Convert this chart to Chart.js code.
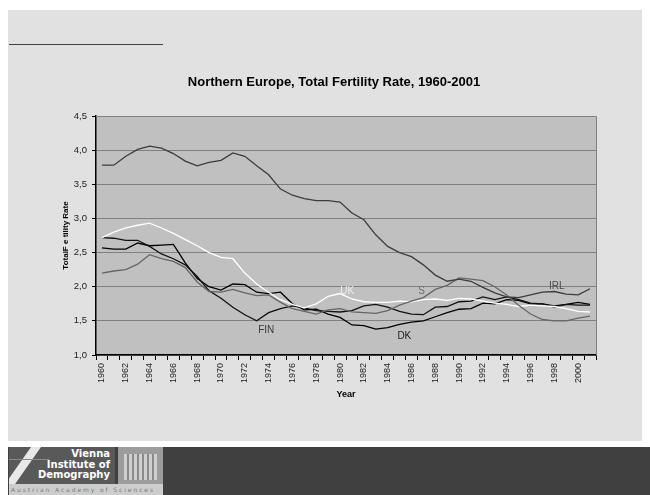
<!DOCTYPE html>
<html>
<head>
<meta charset="utf-8">
<script src="https://cdn.jsdelivr.net/npm/chart.js@4.4.1/dist/chart.umd.min.js"></script>
<style>
    body { margin: 0; background: #fff; width: 650px; height: 495px; overflow: hidden; font-family: "Liberation Sans", Arial, sans-serif; }
    .panel { position: absolute; left: 8px; top: 10px; width: 634px; height: 431px; background: #e1e1e1; }
    .rule { position: absolute; left: 9px; top: 44px; width: 154px; height: 1px; background: #404040; }
    .chart-box { position: absolute; left: 0; top: 0; width: 650px; height: 441px; }
    .footer { position: absolute; left: 8px; top: 447px; width: 642px; height: 48px; background: #404040; }
    .logo { position: absolute; left: 1px; top: 0; width: 154px; height: 48px; }
    .logo .mark { position: absolute; left: 0; top: 0; width: 106px; height: 37px; background: #595959; overflow: hidden; }
    .logo .mark .slash { position: absolute; left: 8px; top: -6px; width: 10px; height: 52px; background: #e8e8e8; transform: skewX(-35deg); }
    .logo .mark .grid { position: absolute; left: 0; top: 12px; width: 40px; height: 1px; background: #888; }
    .logo .mark .txt { position: absolute; right: 5px; top: 2px; color: #fff; font: bold 10px/10.5px "DejaVu Sans", sans-serif; text-align: right; }
    .logo .house { position: absolute; left: 109px; top: 0; width: 45px; height: 37px; background: #9c9c9c; }
    .logo .house .body { position: absolute; left: 6px; top: 7px; width: 33px; height: 26px; background: repeating-linear-gradient(90deg, #cfcfcf 0 3px, #8a8a8a 3px 5px); }
    .logo .strip { position: absolute; left: 0; top: 37px; width: 154px; height: 11px; background: #cdcdcd; color: #7a7a7a; font: 6px/11px "DejaVu Sans", sans-serif; letter-spacing: 1.9px; white-space: nowrap; overflow: hidden; padding-left: 2px; box-sizing: border-box; }
</style>
</head>
<body>
<div class="panel"></div>
<div class="rule"></div>
<div class="chart-box"><canvas id="tfrChart" width="650" height="441"></canvas></div>
<div class="footer">
    <div class="logo">
        <div class="mark"><div class="slash"></div><div class="grid"></div><div class="txt">Vienna<br>Institute of<br>Demography</div></div>
        <div class="house"><div class="body"></div></div>
        <div class="strip">Austrian Academy of Sciences</div>
    </div>
</div>
<script>
// Total fertility rate per country, 1960-2001
const years = [];
for (let y = 1960; y <= 2001; y++) years.push(String(y));

const irlValues = [3.78, 3.78, 3.91, 4.01, 4.06, 4.03, 3.95, 3.84, 3.77, 3.82, 3.85, 3.96, 3.91, 3.77, 3.64, 3.43, 3.34, 3.29, 3.26, 3.26, 3.24, 3.08, 2.98, 2.76, 2.59, 2.50, 2.44, 2.32, 2.17, 2.08, 2.11, 2.08, 1.99, 1.91, 1.85, 1.84, 1.88, 1.92, 1.93, 1.89, 1.88, 1.97];
const sweValues = [2.20, 2.23, 2.25, 2.33, 2.47, 2.41, 2.37, 2.28, 2.07, 1.93, 1.92, 1.96, 1.91, 1.87, 1.88, 1.77, 1.68, 1.64, 1.60, 1.66, 1.68, 1.63, 1.62, 1.61, 1.65, 1.73, 1.79, 1.84, 1.96, 2.02, 2.13, 2.11, 2.09, 2.00, 1.88, 1.73, 1.60, 1.52, 1.50, 1.50, 1.54, 1.57];
const ukValues = [2.72, 2.80, 2.86, 2.90, 2.93, 2.86, 2.78, 2.69, 2.60, 2.50, 2.43, 2.41, 2.20, 2.04, 1.92, 1.81, 1.74, 1.69, 1.75, 1.86, 1.90, 1.82, 1.78, 1.77, 1.77, 1.79, 1.78, 1.81, 1.82, 1.80, 1.83, 1.82, 1.79, 1.76, 1.74, 1.71, 1.73, 1.72, 1.71, 1.68, 1.64, 1.63];
const dkValues = [2.57, 2.55, 2.55, 2.64, 2.60, 2.61, 2.62, 2.35, 2.12, 2.00, 1.95, 2.04, 2.03, 1.92, 1.90, 1.92, 1.75, 1.66, 1.67, 1.60, 1.55, 1.44, 1.43, 1.38, 1.40, 1.45, 1.48, 1.50, 1.56, 1.62, 1.67, 1.68, 1.76, 1.75, 1.81, 1.80, 1.75, 1.75, 1.72, 1.74, 1.77, 1.74];
const finValues = [2.72, 2.71, 2.68, 2.68, 2.59, 2.48, 2.41, 2.32, 2.15, 1.94, 1.83, 1.70, 1.59, 1.50, 1.62, 1.68, 1.72, 1.69, 1.65, 1.64, 1.63, 1.65, 1.72, 1.74, 1.70, 1.64, 1.60, 1.59, 1.70, 1.71, 1.78, 1.79, 1.85, 1.81, 1.85, 1.81, 1.76, 1.75, 1.70, 1.74, 1.73, 1.73];

const yTicks = [1.0, 1.5, 2.0, 2.5, 3.0, 3.5, 4.0, 4.5];

// Country names written next to their lines (year, rate)
const seriesLabels = [
    { text: "IRL", year: 1998.2, rate: 2.01, color: "#4a4a4a" },
    { text: "S", year: 1986.85, rate: 1.94, color: "#6e6e6e" },
    { text: "UK", year: 1980.6, rate: 1.94, color: "#eeeeee" },
    { text: "DK", year: 1985.4, rate: 1.27, color: "#1a1a1a" },
    { text: "FIN", year: 1973.8, rate: 1.36, color: "#3a3a3a" }
];

// Grey plot background with gray frame on top and right
const plotBackground = {
    id: "plotBackground",
    beforeDraw(chart) {
        const { ctx, chartArea: a } = chart;
        ctx.save();
        ctx.fillStyle = "#c0c0c0";
        ctx.fillRect(a.left, a.top, a.right - a.left, a.bottom - a.top);
        ctx.restore();
    },
    afterDraw(chart) {
        const { ctx, chartArea: a } = chart;
        ctx.save();
        ctx.strokeStyle = "#808080";
        ctx.lineWidth = 1;
        ctx.beginPath();
        ctx.moveTo(a.left, a.top + 0.5);
        ctx.lineTo(a.right + 0.5, a.top + 0.5);
        ctx.lineTo(a.right + 0.5, a.bottom);
        ctx.stroke();
        ctx.restore();
    }
};

const lineLabels = {
    id: "lineLabels",
    afterDatasetsDraw(chart) {
        const { ctx, scales } = chart;
        ctx.save();
        ctx.font = "10px 'Liberation Sans', Arial, sans-serif";
        ctx.textAlign = "center";
        ctx.textBaseline = "middle";
        seriesLabels.forEach(l => {
            ctx.fillStyle = l.color;
            ctx.fillText(l.text, scales.x.getPixelForValue(l.year - 1960), scales.y.getPixelForValue(l.rate));
        });
        ctx.restore();
    }
};

function series(label, data, color) {
    return {
        label: label,
        data: data,
        borderColor: color,
        backgroundColor: color,
        borderWidth: 1.3,
        pointRadius: 0,
        tension: 0,
        fill: false
    };
}

const ctx = document.getElementById("tfrChart").getContext("2d");
const tfrChart = new Chart(ctx, {
    type: "line",
    data: {
        labels: years,
        datasets: [
            series("IRL", irlValues, "#3c3c3c"),
            series("S", sweValues, "#666666"),
            series("UK", ukValues, "#ffffff"),
            series("FIN", finValues, "#111111"),
            series("DK", dkValues, "#000000")
        ]
    },
    options: {
        responsive: false,
        animation: false,
        layout: { padding: { left: 18, right: 0, top: 0, bottom: 0 } },
        plugins: {
            legend: { display: false },
            tooltip: { enabled: false },
            title: {
                display: true,
                text: "Northern Europe, Total Fertility Rate, 1960-2001",
                color: "#000",
                font: { family: "'Liberation Sans', Arial, sans-serif", size: 13, weight: "bold" },
                padding: { top: 74.2, bottom: 26.2 }
            }
        },
        scales: {
            x: {
                offset: true,
                grid: { offset: true, drawOnChartArea: false, tickLength: 5, tickColor: "#000", lineWidth: 1 },
                border: { color: "#000", width: 1.5 },
                ticks: {
                    autoSkip: false,
                    maxRotation: 90,
                    minRotation: 90,
                    padding: 3,
                    color: "#222",
                    font: { family: "'Liberation Sans', Arial, sans-serif", size: 9 },
                    callback: (v, i) => (i % 2 === 0 ? years[i] : "")
                },
                title: {
                    display: true,
                    text: "Year",
                    color: "#000",
                    font: { family: "'Liberation Sans', Arial, sans-serif", size: 9, weight: "bold" },
                    padding: { top: 0, bottom: 41.3 }
                },
                afterFit(scale) { scale.height = 86; }
            },
            y: {
                min: 1,
                max: 4.5,
                afterBuildTicks(scale) { scale.ticks = yTicks.map(v => ({ value: v })); },
                grid: { color: "#808080", tickColor: "#000", tickLength: 4, lineWidth: 1 },
                border: { color: "#000", width: 1.5 },
                ticks: {
                    padding: 5,
                    color: "#222",
                    font: { family: "'Liberation Sans', Arial, sans-serif", size: 9.5 },
                    callback: v => v.toFixed(1).replace(".", ",")
                },
                title: {
                    display: true,
                    text: "TotalF e tility Rate",
                    color: "#000",
                    font: { family: "'Liberation Sans', Arial, sans-serif", size: 8, weight: "bold" },
                    padding: { top: 43.2, bottom: 0 }
                },
                afterFit(scale) { scale.width = 78; }
            },
            // empty right-hand strip so the plot ends short of the canvas edge
            spacer: {
                type: "linear",
                position: "right",
                display: true,
                grid: { display: false },
                border: { display: false },
                ticks: { display: false },
                afterFit(scale) { scale.width = 54; }
            }
        }
    },
    plugins: [plotBackground, lineLabels]
});
</script>
</body>
</html>
